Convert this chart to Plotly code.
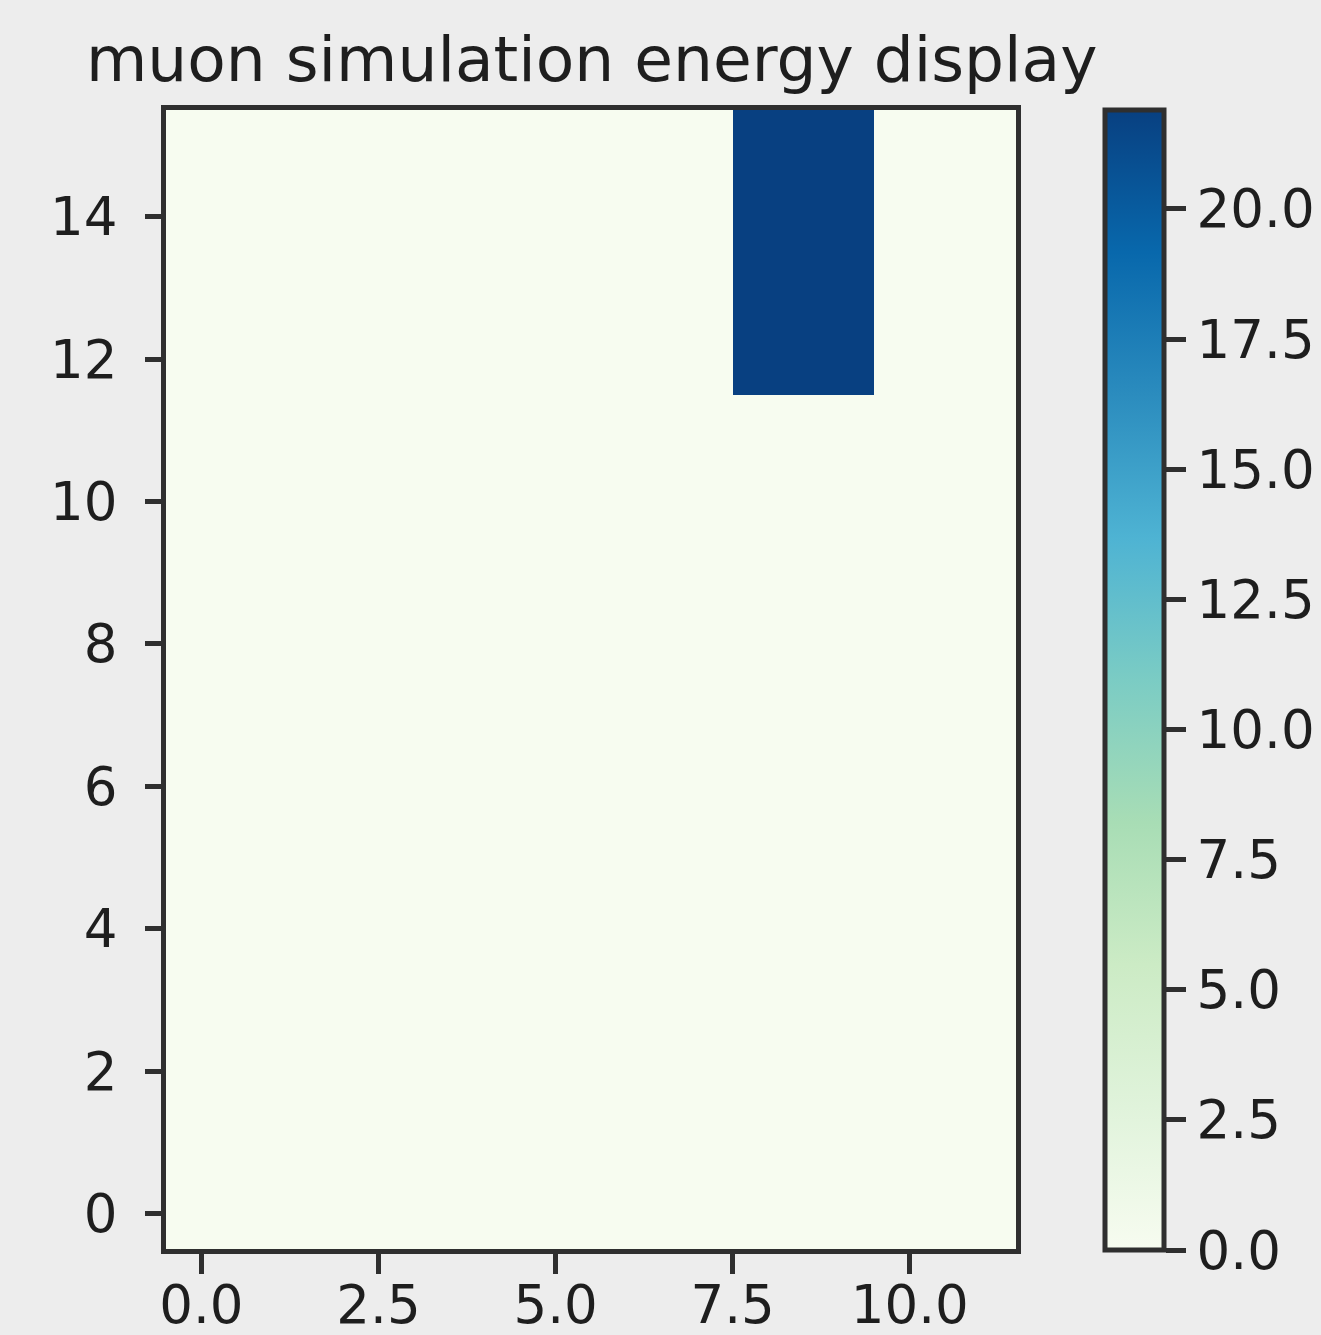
import plotly.graph_objects as go

# Detector grid: 12 columns (x) by 16 layers (y); energy deposited per cell
n_cols = 12
n_rows = 16
x_cells = list(range(n_cols))
y_cells = list(range(n_rows))

# energy per cell, row index = layer (y), bottom layer first
energy = [
    [0, 0, 0, 0, 0, 0, 0, 0, 0, 0, 0, 0],
    [0, 0, 0, 0, 0, 0, 0, 0, 0, 0, 0, 0],
    [0, 0, 0, 0, 0, 0, 0, 0, 0, 0, 0, 0],
    [0, 0, 0, 0, 0, 0, 0, 0, 0, 0, 0, 0],
    [0, 0, 0, 0, 0, 0, 0, 0, 0, 0, 0, 0],
    [0, 0, 0, 0, 0, 0, 0, 0, 0, 0, 0, 0],
    [0, 0, 0, 0, 0, 0, 0, 0, 0, 0, 0, 0],
    [0, 0, 0, 0, 0, 0, 0, 0, 0, 0, 0, 0],
    [0, 0, 0, 0, 0, 0, 0, 0, 0, 0, 0, 0],
    [0, 0, 0, 0, 0, 0, 0, 0, 0, 0, 0, 0],
    [0, 0, 0, 0, 0, 0, 0, 0, 0, 0, 0, 0],
    [0, 0, 0, 0, 0, 0, 0, 0, 0, 0, 0, 0],
    [0, 0, 0, 0, 0, 0, 0, 0, 21.9, 21.9, 0, 0],
    [0, 0, 0, 0, 0, 0, 0, 0, 21.9, 21.9, 0, 0],
    [0, 0, 0, 0, 0, 0, 0, 0, 21.9, 21.9, 0, 0],
    [0, 0, 0, 0, 0, 0, 0, 0, 21.9, 21.9, 0, 0],
]

x_ticks = [0, 2.5, 5, 7.5, 10]
x_tick_text = ["0.0", "2.5", "5.0", "7.5", "10.0"]
y_ticks = [0, 2, 4, 6, 8, 10, 12, 14]
y_tick_text = ["0", "2", "4", "6", "8", "10", "12", "14"]
cb_ticks = [0, 2.5, 5, 7.5, 10, 12.5, 15, 17.5, 20]
cb_tick_text = ["0.0", "2.5", "5.0", "7.5", "10.0", "12.5", "15.0", "17.5", "20.0"]

gnbu = ["#f7fcf0", "#e0f3db", "#ccebc5", "#a8ddb5", "#7bccc4",
        "#4eb3d3", "#2b8cbe", "#0868ac", "#084081"]

W, H = 1321, 1335
left, right, top, bottom = 165.5, 1016.5, 109.5, 1249
frame = "#2f2f2f"
text_col = "#1e1e1e"
font_family = "DejaVu Sans"
tick_size = 53

fig = go.Figure(
    go.Heatmap(
        z=energy,
        x=x_cells,
        y=y_cells,
        zmin=0,
        zmax=max(max(r) for r in energy),
        colorscale=[[i / (len(gnbu) - 1), c] for i, c in enumerate(gnbu)],
        colorbar=dict(
            thickness=59,
            thicknessmode="pixels",
            len=bottom - top,
            lenmode="pixels",
            x=(1106 - left) / (right - left),
            xanchor="left",
            xref="paper",
            y=1,
            yanchor="top",
            xpad=0,
            ypad=0,
            outlinewidth=5,
            outlinecolor=frame,
            ticks="outside",
            ticklen=20,
            tickwidth=5,
            tickcolor=frame,
            tickvals=cb_ticks,
            ticktext=cb_tick_text,
            tickfont=dict(size=tick_size, color=text_col, family=font_family),
        ),
    )
)

axis_common = dict(
    showline=True,
    mirror=True,
    linewidth=5,
    linecolor=frame,
    ticks="outside",
    tickwidth=5,
    tickcolor=frame,
    showgrid=False,
    zeroline=False,
    tickfont=dict(size=tick_size, color=text_col, family=font_family),
)

fig.update_layout(
    width=W,
    height=H,
    margin=dict(l=left, r=W - right, t=top, b=H - bottom, autoexpand=False),
    paper_bgcolor="#ededed",
    plot_bgcolor="#f7fcf0",
    font=dict(family=font_family, color=text_col),
    xaxis=dict(axis_common, range=[-0.5, n_cols - 0.5], tickvals=x_ticks,
               ticktext=x_tick_text, ticklen=20, ticklabelstandoff=-15),
    yaxis=dict(axis_common, range=[-0.5, n_rows - 0.5], tickvals=y_ticks,
               ticktext=y_tick_text, ticklen=16, ticklabelstandoff=17),
    annotations=[
        dict(
            text="muon simulation energy display",
            xref="paper", yref="paper",
            x=0.5, y=1,
            xanchor="center", yanchor="bottom",
            yshift=12,
            showarrow=False,
            font=dict(size=63, color=text_col, family=font_family),
        )
    ],
)

fig.write_html("out.html")
